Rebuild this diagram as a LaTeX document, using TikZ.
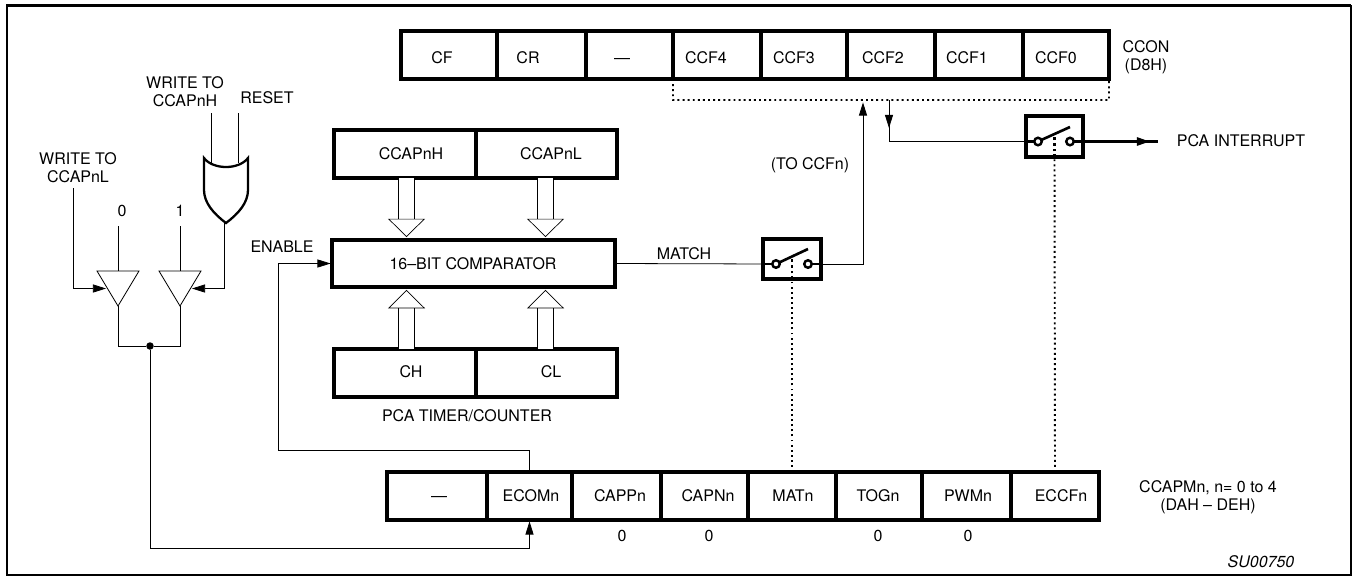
\documentclass[tikz,border=0pt]{standalone}
\usepackage{fontspec}
\setmainfont{TeX Gyre Heros}
\usepackage{tikz}
\usetikzlibrary{arrows.meta,shapes.geometric}
\tikzstyle{lbl} = [inner sep=0pt, align=center, font=\fontsize{9.1}{10.2}\selectfont]
\tikzstyle{cell} = [draw, rectangle, line width=2.1pt, inner sep=0pt, outer sep=0pt, minimum height=0.96cm]
\tikzstyle{switchbox} = [draw, rectangle, line width=2pt, inner sep=0pt, outer sep=0pt]
\tikzstyle{contact} = [draw, circle, fill=white, line width=1.4pt, inner sep=0pt, outer sep=0pt, minimum size=0.15cm]
\tikzstyle{buffer} = [draw, isosceles triangle, isosceles triangle stretches, shape border rotate=-90, line width=0.45pt, inner sep=0pt, outer sep=0pt, minimum width=0.84cm, minimum height=0.7cm]
\tikzstyle{plain} = [line width=0.45pt]
\tikzstyle{wire} = [line width=0.45pt, shorten >=0.8pt, -{Triangle[length=7.5pt,width=4.6pt]}]
\tikzstyle{heavy} = [line width=1.5pt]
\tikzstyle{dotline} = [line width=1.1pt, dash pattern=on 1.1pt off 1.8pt]
\tikzstyle{dotheavy} = [line width=1.6pt, dash pattern=on 1.6pt off 1.6pt]
\tikzstyle{bus} = [line width=0.4pt, double, double distance=8.5pt, shorten >=1.6pt, -{Triangle[length=10.5pt,width=21pt,fill=white,line width=0.4pt]}]
\tikzstyle{busup} = [line width=0.4pt, double, double distance=8.5pt, shorten <=1.6pt, {Triangle[length=10.5pt,width=21pt,fill=white,line width=0.4pt]}-]

\begin{document}
\begin{tikzpicture}[x=0.02cm,y=0.02cm]
    \useasboundingbox (0,0) rectangle (1353,-576);
    \draw[line width=0.8pt] (7,-5.3) rectangle (1351,-575);
    \draw[line width=1.6pt] (7,-575) -- (7,-5.3) -- (1351,-5.3);

    \draw (449,-55)    node[cell, minimum width=1.92cm] (CF) {};
    \draw (541.5,-55)  node[cell, minimum width=1.78cm] (CR) {};
    \draw (629.5,-55)  node[cell, minimum width=1.74cm] (NONEA) {};
    \draw (717,-55)    node[cell, minimum width=1.76cm] (CCFD) {};
    \draw (804,-55)    node[cell, minimum width=1.72cm] (CCFC) {};
    \draw (891,-55)    node[cell, minimum width=1.76cm] (CCFB) {};
    \draw (979,-55)    node[cell, minimum width=1.76cm] (CCFA) {};
    \draw (1066,-55)   node[cell, minimum width=1.72cm] (CCFZ) {};
    \draw (442,-58)    node[lbl] (tCF) {CF};
    \draw (528,-58)    node[lbl] (tCR) {CR};
    \draw (622,-61)    node[lbl] (tNONEA) {---};
    \draw (706,-58)    node[lbl] (tCCFD) {CCF4};
    \draw (794,-58)    node[lbl] (tCCFC) {CCF3};
    \draw (883,-58)    node[lbl] (tCCFB) {CCF2};
    \draw (967,-58)    node[lbl] (tCCFA) {CCF1};
    \draw (1056,-58)   node[lbl] (tCCFZ) {CCF0};
    \draw (1146,-57)   node[lbl] (tCCON) {CCON \\ (D8H)};

    \draw (437,-496)   node[cell, minimum width=2cm] (NONEB) {};
    \draw (529.5,-496) node[cell, minimum width=1.7cm] (ECOM) {};
    \draw (616.5,-496) node[cell, minimum width=1.78cm] (CAPP) {};
    \draw (704.5,-496) node[cell, minimum width=1.74cm] (CAPN) {};
    \draw (792,-496)   node[cell, minimum width=1.76cm] (MAT) {};
    \draw (879,-496)   node[cell, minimum width=1.72cm] (TOG) {};
    \draw (966.5,-496) node[cell, minimum width=1.78cm] (PWM) {};
    \draw (1055,-496)  node[cell, minimum width=1.76cm] (ECCF) {};
    \draw (439,-499)   node[lbl] (tNONEB) {---};
    \draw (531,-496)   node[lbl] (tECOM) {ECOMn};
    \draw (620,-496)   node[lbl] (tCAPP) {CAPPn};
    \draw (708,-496)   node[lbl] (tCAPN) {CAPNn};
    \draw (793,-496)   node[lbl] (tMAT) {MATn};
    \draw (878,-496)   node[lbl] (tTOG) {TOGn};
    \draw (968,-496)   node[lbl] (tPWM) {PWMn};
    \draw (1061,-496)  node[lbl] (tECCF) {ECCFn};
    \draw (622,-536)   node[lbl] (zCAPP) {0};
    \draw (709,-536)   node[lbl] (zCAPN) {0};
    \draw (878,-536)   node[lbl] (zTOG) {0};
    \draw (968,-536)   node[lbl] (zPWM) {0};
    \draw (1208,-497)  node[lbl] (tCCAPM) {CCAPMn, n= 0 to 4 \\ (DAH -- DEH)};
    \draw (1261,-562)  node[lbl, font=\fontsize{9.1}{10.2}\selectfont\itshape] (tSU) {SU00750};

    \draw (405,-154)   node[cell, minimum width=2.84cm] (CCAPH) {};
    \draw (546.5,-154) node[cell, minimum width=2.82cm] (CCAPL) {};
    \draw (473.5,-263.5) node[cell, line width=2.3pt, minimum width=5.66cm, minimum height=0.94cm] (COMP) {};
    \draw (405,-373)   node[cell, minimum width=2.84cm] (CH) {};
    \draw (546.5,-373) node[cell, minimum width=2.82cm] (CL) {};
    \draw (411,-154)   node[lbl] (tCCAPH) {CCAPnH};
    \draw (551,-154)   node[lbl] (tCCAPL) {CCAPnL};
    \draw (473,-263.5) node[lbl] (tCOMP) {16--BIT COMPARATOR};
    \draw (411,-372)   node[lbl] (tCH) {CH};
    \draw (551,-372)   node[lbl] (tCL) {CL};
    \draw (467,-416)   node[lbl] (tTIMER) {PCA TIMER/COUNTER};
    \draw (282,-247)   node[lbl] (tENABLE) {ENABLE};
    \draw (684,-254)   node[lbl] (tMATCH) {MATCH};
    \draw (810,-165)   node[lbl] (tTOCCF) {(TO CCFn)};
    \draw (1241,-141)  node[lbl] (tINT) {PCA INTERRUPT};

    \draw (78,-168)    node[lbl] (tWRL) {WRITE TO \\ CCAPnL};
    \draw (185,-92)    node[lbl] (tWRH) {WRITE TO \\ CCAPnH};
    \draw (267,-98)    node[lbl] (tRESET) {RESET};
    \draw (122,-211)   node[lbl] (tZERO) {0};
    \draw (180,-211)   node[lbl] (tONE) {1};

    \draw (118,-306)   node[buffer, anchor=apex] (BUFA) {};
    \draw (180,-306)   node[buffer, anchor=apex] (BUFB) {};
    \draw (150,-346)   node[circle, fill=black, inner sep=0pt, minimum size=0.15cm] (JN) {};

    \draw (792,-259)   node[switchbox, minimum width=1.16cm, minimum height=0.8cm] (SWA) {};
    \draw (776,-264)   node[contact] (SWAL) {};
    \draw (808,-264)   node[contact] (SWAR) {};
    \draw (1054.5,-136.5) node[switchbox, minimum width=1.14cm, minimum height=0.82cm] (SWB) {};
    \draw (1038,-141.5) node[contact] (SWBL) {};
    \draw (1070,-141.5) node[contact] (SWBR) {};

    \coordinate (SWAT) at (808,-249);
    \coordinate (SWAM) at (792,-256);
    \coordinate (SWBT) at (1070,-127);
    \coordinate (SWBM) at (1054.5,-134);
    \coordinate (TAPUP) at (863,-101);
    \coordinate (TAP) at (889,-100);
    \coordinate (TAPTIP) at (889,-128);
    \coordinate (BARR) at (1109,-100);
    \coordinate (OUTTIP) at (1150,-141.5);
    \coordinate (OUTEND) at (1158,-141.5);
    \coordinate (ENBEND) at (278,-450);
    \coordinate (LOWBEND) at (529.5,-548);
    \coordinate (INZERO) at (118,-226);
    \coordinate (INONE) at (180,-226);
    \coordinate (INWRL) at (73,-188);
    \coordinate (INWRH) at (211,-113);
    \coordinate (INRES) at (238,-113);
    \coordinate (ORWRH) at (211,-163);
    \coordinate (ORRES) at (238,-163);
    \coordinate (ORTIP) at (224,-222);

    \draw[line width=1.3pt] (204,-158) .. controls (213,-170) and (239,-170) .. (248,-158)
        -- (248,-190) .. controls (248,-203) and (238,-214) .. (226,-223)
        .. controls (214,-214) and (204,-203) .. (204,-190) -- cycle;

    \draw[plain] (INWRH) -- (ORWRH);
    \draw[plain] (INRES) -- (ORRES);
    \draw[plain] (INZERO) -- (BUFA.lower side);
    \draw[plain] (INONE) -- (BUFB.lower side);
    \draw[wire] (INWRL) |- (BUFA.right side);
    \draw[wire] (ORTIP) |- (BUFB.left side);
    \draw[plain] (BUFA.apex) |- (JN) -| (BUFB.apex);
    \draw[wire] (JN) |- (LOWBEND) -- (ECOM.south);
    \draw[wire] (ECOM.north) |- (ENBEND) |- (COMP.west);

    \draw[bus] ([xshift=0.03cm]CCAPH.south) -- ([xshift=0.03cm]CCAPH.south |- COMP.north);
    \draw[bus] ([xshift=-0.02cm]CCAPL.south) -- ([xshift=-0.02cm]CCAPL.south |- COMP.north);
    \draw[busup] ([xshift=0.03cm]CH.north |- COMP.south) -- ([xshift=0.03cm]CH.north);
    \draw[busup] ([xshift=-0.02cm]CL.north |- COMP.south) -- ([xshift=-0.02cm]CL.north);

    \draw[plain] (COMP.east) -- (SWAL.west);
    \draw[heavy] (SWAL.west) -- (SWAL.west -| SWA.west);
    \draw[heavy] (SWAR.east) -- (SWAR.east -| SWA.east);
    \draw[heavy] (SWAL.25) -- (SWAT);
    \draw[wire] (SWAR.east -| SWA.east) -| (TAPUP);
    \draw[dotheavy] (SWA.south) -- (SWAM);
    \draw[dotline] (MAT.north) -- (SWA.south);

    \draw[plain] (TAP) |- (SWBL.west);
    \draw[wire, shorten >=0pt] (TAP) -- (TAPTIP);
    \draw[heavy] (SWBL.west) -- (SWBL.west -| SWB.west);
    \draw[heavy] (SWBL.25) -- (SWBT);
    \draw[heavy] (SWBR.east) -- (OUTEND);
    \draw[heavy, -{Triangle[length=7.5pt,width=4.6pt]}] (SWBR.east) -- (OUTTIP);
    \draw[dotheavy] (SWB.south) -- (SWBM);
    \draw[dotline] (ECCF.north) -- (SWB.south);

    \draw[dotline] (CCFD.south west) |- (BARR) -- (CCFZ.south east);
\end{tikzpicture}
\end{document}
